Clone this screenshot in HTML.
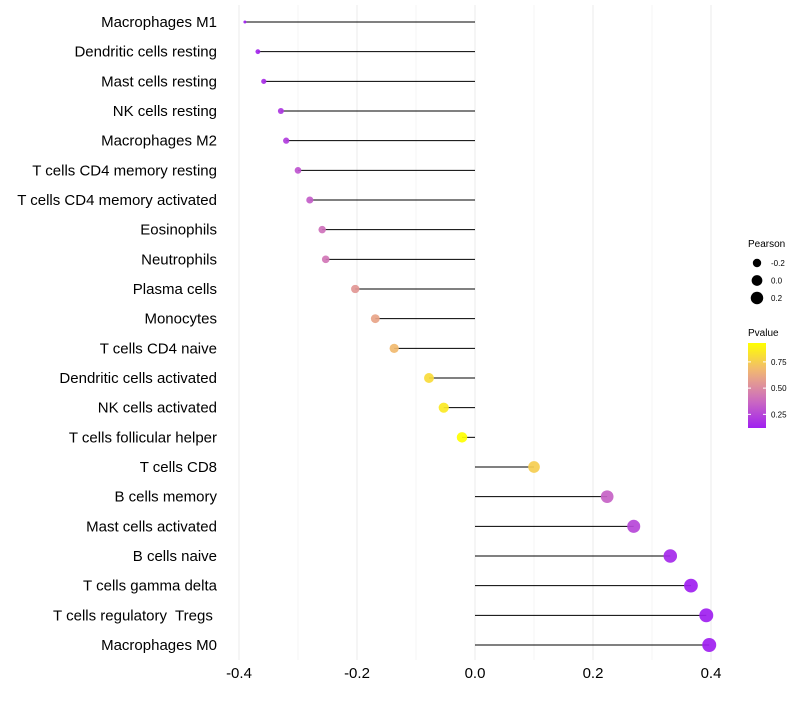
<!DOCTYPE html>
<html><head><meta charset="utf-8"><style>
body{margin:0;background:#fff;font-family:"Liberation Sans",sans-serif;}
text{white-space:pre;}
</style></head><body>
<svg id="c" width="800" height="700"></svg>
<script>
const cats=["Macrophages M1","Dendritic cells resting","Mast cells resting","NK cells resting","Macrophages M2","T cells CD4 memory resting","T cells CD4 memory activated","Eosinophils","Neutrophils","Plasma cells","Monocytes","T cells CD4 naive","Dendritic cells activated","NK cells activated","T cells follicular helper","T cells CD8","B cells memory","Mast cells activated","B cells naive","T cells gamma delta","T cells regulatory  Tregs ","Macrophages M0"];
const pearson=[-0.39,-0.368,-0.358,-0.329,-0.32,-0.30,-0.28,-0.259,-0.253,-0.203,-0.169,-0.137,-0.078,-0.053,-0.022,0.10,0.224,0.269,0.331,0.366,0.392,0.397];
const pvalue=[0.1,0.14,0.17,0.2,0.22,0.3,0.33,0.4,0.42,0.55,0.6,0.68,0.8,0.85,0.93,0.75,0.35,0.25,0.15,0.1,0.06,0.06];
const xticks=[-0.4,-0.2,0.0,0.2,0.4];
const xtickLabels=["-0.4","-0.2","0.0","0.2","0.4"];
const NS="http://www.w3.org/2000/svg";
const svg=document.getElementById('c');
function mk(t,a,p){const e=document.createElementNS(NS,t);for(const k in a)e.setAttribute(k,a[k]);(p||svg).appendChild(e);return e;}
const x=v=>475+v*590;
const y=i=>22+i*(623/21);
const r=p=>1.5+5.5*Math.sqrt(Math.max(0,(p+0.39)/0.79));
function col(p){
  const t=Math.max(0,Math.min(1,(p-0.12)/(0.93-0.12)));
  const stops=[[160,32,240],[205,110,190],[240,180,120],[255,255,0]];
  const s=t*3,i=Math.min(2,Math.floor(s)),f=s-i;
  const c=stops[i].map((v,k)=>Math.round(v+(stops[i+1][k]-v)*f));
  return `rgb(${c})`;
}
for(let v=-0.4;v<=0.401;v+=0.1){
  const g=mk('line',{x1:x(v),x2:x(v),y1:5,y2:660,stroke:Math.abs(Math.round(v*10))%2===0?'#ebebeb':'#f4f4f4','stroke-width':1});
  
  
}
cats.forEach((c,i)=>{
  const l=mk('line',{x1:x(0),x2:x(pearson[i]),y1:y(i),y2:y(i),stroke:'#000','stroke-width':1});
  
  
  const d=mk('circle',{cx:x(pearson[i]),cy:y(i),r:r(pearson[i]),fill:col(pvalue[i]),'fill-opacity':0.92});
  
  
  const t=mk('text',{x:217,y:y(i)+5,'text-anchor':'end','font-size':15,fill:'#000'});
  t.textContent=c;
  
  
});
xticks.forEach((v,i)=>{
  const t=mk('text',{x:x(v),y:678,'text-anchor':'middle','font-size':15,fill:'#000'});
  t.textContent=xtickLabels[i];
  
  
});
const lg=mk('g',{});


let tt=mk('text',{x:748,y:247,'font-size':10},lg);tt.textContent='Pearson';

const sz=[-0.2,0.0,0.2],szl=["-0.2","0.0","0.2"];
sz.forEach((v,i)=>{
  const cy=263+i*17.5;
  const cc=mk('circle',{cx:757,cy:cy,r:r(v),fill:'#000'},lg);
  
  const t=mk('text',{x:771,y:cy+3,'font-size':8},lg);t.textContent=szl[i];
  
});
tt=mk('text',{x:748,y:336,'font-size':10},lg);tt.textContent='Pvalue';

const defs=mk('defs',{});
const gr=mk('linearGradient',{id:'pg',x1:0,y1:1,x2:0,y2:0},defs);
for(let k=0;k<=10;k++){mk('stop',{offset:k/10,'stop-color':col(0.12+k/10*0.81)},gr);}
const cb=mk('rect',{x:748,y:343,width:18,height:85,fill:'url(#pg)'},lg);

const pt=[0.25,0.5,0.75],ptl=["0.25","0.50","0.75"];
pt.forEach((v,i)=>{
  const yy=428-(v-0.12)/(0.81)*85;
  mk('line',{x1:748,x2:751,y1:yy,y2:yy,stroke:'#fff'},lg);
  mk('line',{x1:763,x2:766,y1:yy,y2:yy,stroke:'#fff'},lg);
  const t=mk('text',{x:771,y:yy+3,'font-size':8},lg);t.textContent=ptl[i];
  
});
</script>
</body></html>
